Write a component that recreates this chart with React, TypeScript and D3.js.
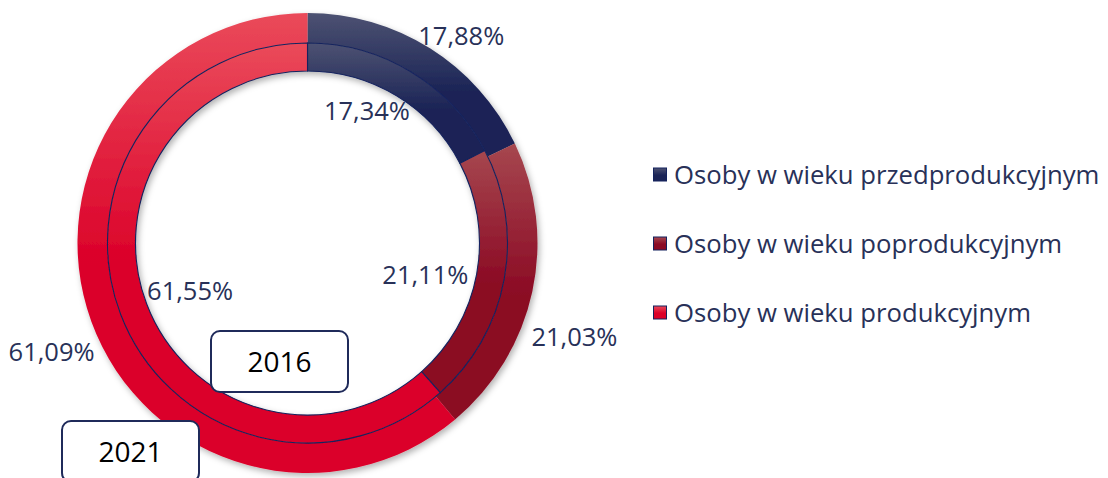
import React from "react";
import * as d3 from "d3";

const categories = [
  "Osoby w wieku przedprodukcyjnym",
  "Osoby w wieku poprodukcyjnym",
  "Osoby w wieku produkcyjnym",
];
const values2021 = [17.88, 21.03, 61.09];
const values2016 = [17.34, 21.11, 61.55];
const yearLabels = ["2016", "2021"];

const baseColors = ["#1b2456", "#8b0a24", "#db0029"];
const lightColors = ["#4d5272", "#a6474f", "#ea4a5a"];

const W = 1108;
const H = 478;
const FONT = "'Open Sans', 'Noto Sans', sans-serif";
const TEXT_COLOR = "#283158";
const NAVY = "#14235e";

export default function App() {
  const cx = 307.5;
  const cy = 243;
  const outerR = [200, 230];
  const innerR = [172, 200];

  const pie = d3
    .pie<number>()
    .sort(null)
    .value((d) => d)
    .startAngle(0)
    .endAngle(2 * Math.PI);

  const outerArcs = pie(values2021);
  const innerArcs = pie(values2016);

  const arcOuter = d3.arc<d3.PieArcDatum<number>>().innerRadius(outerR[0]).outerRadius(outerR[1]);
  const arcInner = d3.arc<d3.PieArcDatum<number>>().innerRadius(innerR[0]).outerRadius(innerR[1]);

  const fmt = (v: number) => d3.format(".2f")(v).replace(".", ",") + "%";

  const polar = (a: number, r: number): [number, number] => [
    cx + r * Math.sin(a),
    cy - r * Math.cos(a),
  ];

  const outerNudge: [number, number][] = [
    [11, 20],
    [5, 37],
    [-4, 17],
  ];
  const innerNudge: [number, number][] = [
    [-9, -19],
    [-12, 8],
    [6, 1],
  ];

  const legendY = d3.scalePoint<string>().domain(categories).range([175, 313]);

  return (
    <svg
      width={W}
      height={H}
      style={{ position: "absolute", left: 0, top: 0, background: "#fff" }}
      fontFamily={FONT}
    >
      <defs>
        {baseColors.map((c, i) => (
          <linearGradient key={i} id={`g${i}`} x1="0" y1="0" x2="0" y2="1">
            <stop offset="0" stopColor={lightColors[i]} />
            <stop offset="0.55" stopColor={c} />
            <stop offset="1" stopColor={c} />
          </linearGradient>
        ))}
        <filter id="shadow" x="-10%" y="-10%" width="120%" height="120%">
          <feDropShadow dx="2" dy="3" stdDeviation="3" floodColor="#000" floodOpacity="0.3" />
        </filter>
      </defs>

      <g transform={`translate(${cx},${cy})`} filter="url(#shadow)">
        {outerArcs.map((a, i) => (
          <path key={`o${i}`} d={arcOuter(a) || ""} fill={`url(#g${i})`} />
        ))}
        {innerArcs.map((a, i) => (
          <path
            key={`i${i}`}
            d={arcInner(a) || ""}
            fill={`url(#g${i})`}
            stroke={NAVY}
            strokeWidth={1.1}
          />
        ))}
      </g>

      {outerArcs.map((a, i) => {
        const [x, y] = polar((a.startAngle + a.endAngle) / 2, 268);
        return (
          <text
            key={`lo${i}`}
            x={x + outerNudge[i][0]}
            y={y + outerNudge[i][1]}
            dy="0.36em"
            textAnchor="middle"
            fontSize={25.5}
            fill={TEXT_COLOR}
          >
            {fmt(values2021[i])}
          </text>
        );
      })}
      {innerArcs.map((a, i) => {
        const [x, y] = polar((a.startAngle + a.endAngle) / 2, 132);
        return (
          <text
            key={`li${i}`}
            x={x + innerNudge[i][0]}
            y={y + innerNudge[i][1]}
            dy="0.36em"
            textAnchor="middle"
            fontSize={25.5}
            fill={TEXT_COLOR}
          >
            {fmt(values2016[i])}
          </text>
        );
      })}

      {/* year boxes */}
      {[
        { label: yearLabels[0], x: 211, y: 331 },
        { label: yearLabels[1], x: 62, y: 421 },
      ].map((b) => (
        <g key={b.label}>
          <rect
            x={b.x}
            y={b.y}
            width={137}
            height={61}
            rx={9}
            fill="#fff"
            stroke="#1f2a5a"
            strokeWidth={2}
          />
          <text
            x={b.x + 68.5}
            y={b.y + 31}
            dy="0.36em"
            textAnchor="middle"
            fontSize={28}
            fill="#000"
          >
            {b.label}
          </text>
        </g>
      ))}

      {/* legend */}
      {categories.map((c, i) => {
        const y = legendY(c) as number;
        return (
          <g key={c}>
            <rect
              x={653.5}
              y={y - 7}
              width={13}
              height={13}
              fill={`url(#g${i})`}
              stroke={NAVY}
              strokeWidth={1}
            />
            <text x={674} y={y} dy="0.36em" fontSize={25.7} fill={TEXT_COLOR}>
              {c}
            </text>
          </g>
        );
      })}
    </svg>
  );
}
